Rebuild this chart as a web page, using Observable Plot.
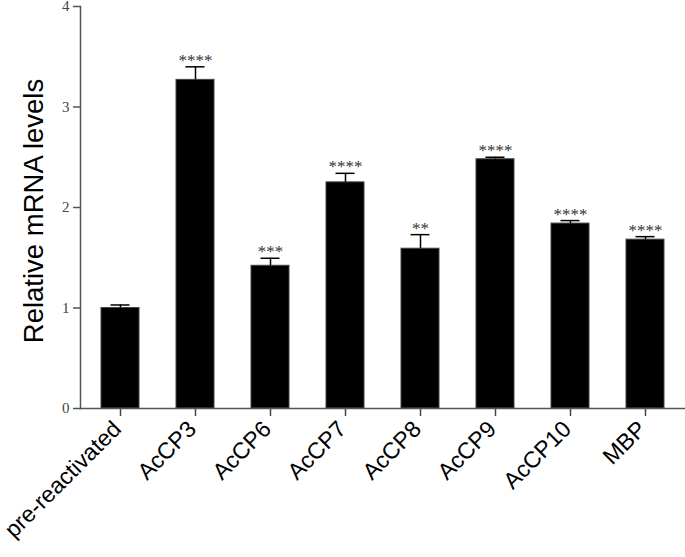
<!DOCTYPE html>
<html>
<head>
<meta charset="utf-8">
<script src="https://cdn.jsdelivr.net/npm/d3@7"></script>
<script src="https://cdn.jsdelivr.net/npm/@observablehq/plot@0.6"></script>
<style>
  html, body { margin: 0; padding: 0; background: #fff; }
  #chart { width: 685px; height: 557px; overflow: hidden; }
</style>
</head>
<body>
<div id="chart"></div>
<script>
const categories = ["pre-reactivated", "AcCP3", "AcCP6", "AcCP7", "AcCP8", "AcCP9", "AcCP10", "MBP"];
const means = [1.00, 3.27, 1.42, 2.25, 1.59, 2.48, 1.84, 1.68];
const errUpper = [1.03, 3.40, 1.495, 2.34, 1.73, 2.50, 1.87, 1.71];
const stars = ["", "****", "***", "****", "**", "****", "****", "****"];
const yTicks = [0, 1, 2, 3, 4];

const data = categories.map((c, i) => ({ cat: c, mean: means[i], hi: errUpper[i], sig: stars[i] }));

const serif = "Liberation Serif, Times New Roman, serif";
const sans = "Liberation Sans, Arial, sans-serif";

const chart = Plot.plot({
  width: 685,
  height: 557,
  marginLeft: 80,
  marginRight: 0,
  marginTop: 6,
  marginBottom: 149,
  style: { fontFamily: sans, background: "white", overflow: "visible" },
  x: { domain: categories, paddingInner: 0.5, paddingOuter: 0.25, label: null, axis: null },
  y: { domain: [0, 4], label: null, axis: null },
  marks: [
    Plot.barY(data, { x: "cat", y: "mean", fill: "black", stroke: "#444", strokeWidth: 1 }),
    Plot.ruleX(data, { x: "cat", y1: "mean", y2: "hi", stroke: "black", strokeWidth: 1.5 }),
    Plot.tickY(data, { x: "cat", y: "hi", stroke: "black", strokeWidth: 1.5, insetLeft: 9.5, insetRight: 9.5 }),
    Plot.text(data, { x: "cat", y: "hi", text: "sig", fontFamily: serif, fontSize: 17, fill: "#333", lineAnchor: "bottom", dy: -1 }),
    // y axis ticks and labels
    Plot.axisY({ ticks: yTicks, tickSize: 7, tickFormat: () => "", stroke: "#555", strokeWidth: 1.5, label: null }),
    Plot.text(yTicks, { y: d => d, text: d => String(d), frameAnchor: "left", textAnchor: "end", dx: -11, fontFamily: serif, fontSize: 15, fill: "#444" }),
    // x axis ticks and labels
    Plot.axisX({ tickSize: 8, tickFormat: () => "", stroke: "#444", strokeWidth: 1.5, label: null }),
    Plot.text(categories, { x: d => d, text: d => d, frameAnchor: "bottom", textAnchor: "end", rotate: -45, dx: 2, dy: 22, fontFamily: sans, fontSize: 23, fill: "#000" }),
    Plot.ruleY([0], { stroke: "#555", strokeWidth: 1.5 }),
    Plot.frame({ anchor: "left", stroke: "#555", strokeWidth: 1.5 }),
    Plot.text(["Relative mRNA levels"], { frameAnchor: "left", textAnchor: "middle", rotate: -90, fontSize: 27.5, fontFamily: sans, fill: "#000", dx: -46.5, dy: 3.5 })
  ]
});
document.getElementById("chart").appendChild(chart);
</script>
</body>
</html>
